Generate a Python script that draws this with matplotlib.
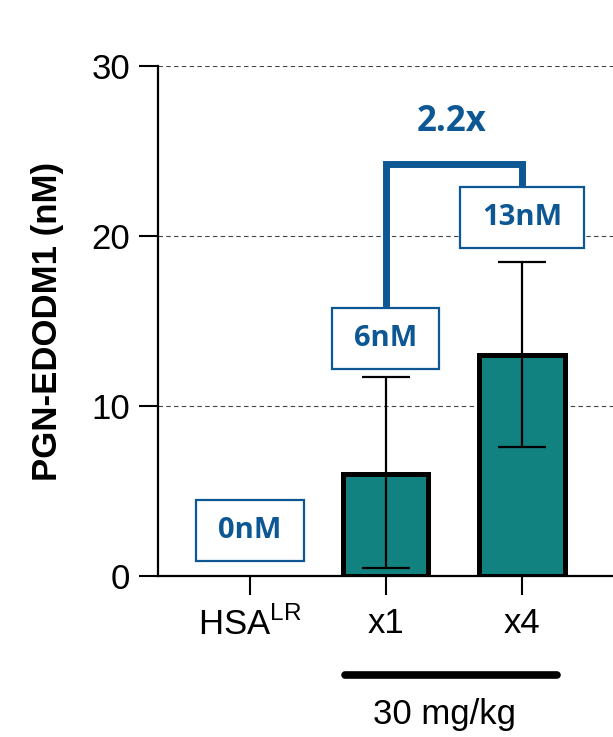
import matplotlib
matplotlib.use('Agg')
import matplotlib.pyplot as plt
from matplotlib.path import Path

# 数据
groups = ['HSA$^{\\mathrm{LR}}$', 'x1', 'x4']
means = [0, 6.0, 13.0]
err_low = [0, 5.5, 5.4]
err_high = [0, 5.7, 5.5]
box_texts = ['0nM', '6nM', '13nM']
box_y = [2.65, 13.95, 21.1]
fold_text = '2.2x'
dose_text = '30 mg/kg'
ylabel = 'PGN-EDODM1 (nM)'
yticks = [0, 10, 20, 30]

teal = '#128280'
blue = '#0D5894'

plt.rcParams['font.family'] = ['Liberation Sans', 'DejaVu Sans']
plt.rcParams['mathtext.fontset'] = 'custom'
plt.rcParams['mathtext.rm'] = 'Liberation Sans'

fig = plt.figure(figsize=(6.13, 7.37), dpi=100)
ax = fig.add_axes([158 / 613, 1 - 576 / 737, 1 - 158 / 613, 510 / 737])

x = list(range(len(groups)))
bar_x = x[1:]
ax.bar(bar_x, means[1:], width=0.625, color=teal, edgecolor='black', linewidth=3.6, zorder=3)
ax.errorbar(bar_x, means[1:], yerr=[err_low[1:], err_high[1:]], fmt='none',
            ecolor='black', elinewidth=1.6, capsize=17, capthick=1.6, zorder=4)

ax.set_xlim(-0.676, 2.669)
ax.set_ylim(0, 30)
ax.set_yticks(yticks)
ax.set_xticks(x)
ax.set_xticklabels(groups)
ax.tick_params(axis='both', labelsize=25, length=14, width=1.5, direction='out')
ax.tick_params(axis='x', pad=8)
ax.tick_params(axis='y', pad=6)
for s in ['top', 'right']:
    ax.spines[s].set_visible(False)
for s in ['left', 'bottom']:
    ax.spines[s].set_linewidth(1.6)
ax.yaxis.grid(True, linestyle=(0, (4, 3)), color='#444444', linewidth=0.8)
ax.set_axisbelow(True)
ax.set_ylabel(ylabel, fontsize=25, fontweight='bold', labelpad=20)


# 文本框（水平和垂直边距不同）
def wide_box(x0, y0, width, height, mutation_size):
    px = 0.75 * mutation_size
    py = 0.55 * mutation_size
    return Path([(x0 - px, y0 - py), (x0 + width + px, y0 - py),
                 (x0 + width + px, y0 + height + py), (x0 - px, y0 + height + py),
                 (x0 - px, y0 - py)], closed=True)


for xi, t, yy in zip(x, box_texts, box_y):
    ax.text(xi, yy, t, ha='center', va='center', fontsize=21, fontweight='bold',
            family='Open Sans', color=blue, zorder=6,
            bbox=dict(boxstyle=wide_box, facecolor='white', edgecolor=blue, linewidth=1.6))

# 括号
top = 24.25
ax.plot([1, 1, 2, 2], [15.6, top, top, 22.8], color=blue, linewidth=5,
        solid_joinstyle='miter', solid_capstyle='butt', zorder=5)
ax.text(1.485, 26.7, fold_text, ha='center', va='center', fontsize=25,
        fontweight='bold', family='Open Sans', color=blue)

# 剂量标注
trans = ax.get_xaxis_transform()
ax.plot([0.7, 2.26], [-0.194, -0.194], transform=trans, color='black',
        linewidth=5.5, solid_capstyle='round', clip_on=False)
ax.text(1.43, -0.29, dose_text, transform=trans, ha='center', va='baseline', fontsize=25)

fig.savefig('out.png', dpi=100)
